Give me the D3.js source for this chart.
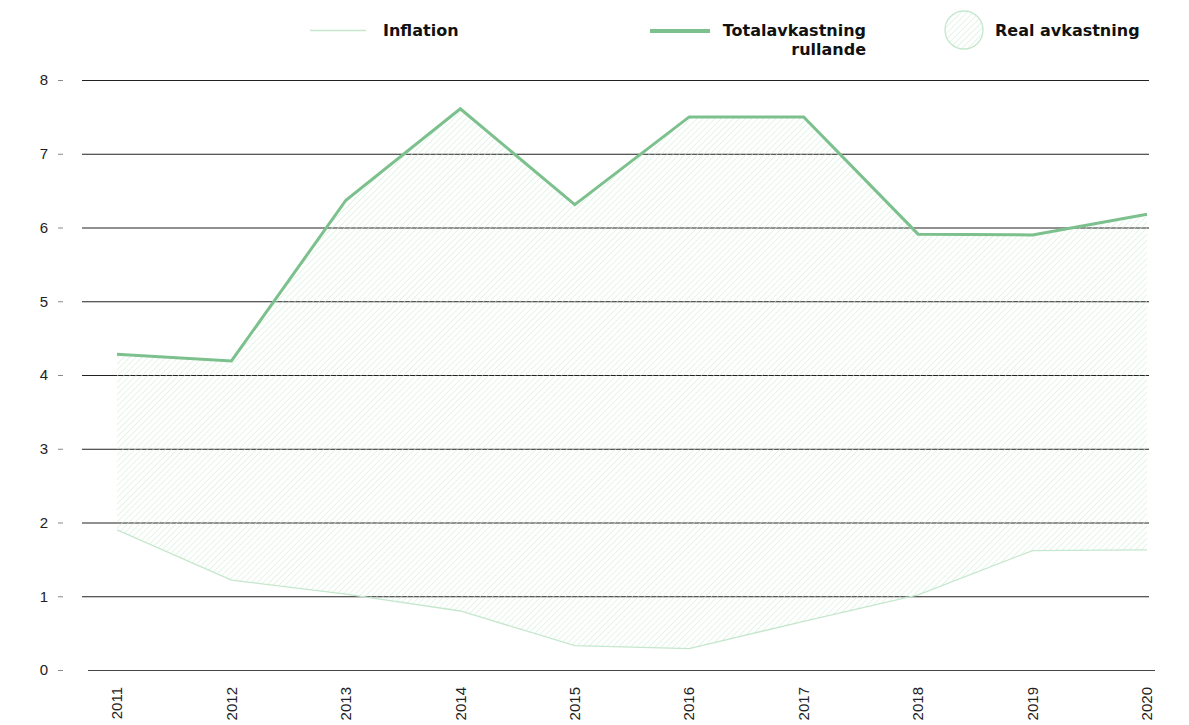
<!DOCTYPE html>
<html>
<head>
<meta charset="utf-8">
<script src="https://cdn.jsdelivr.net/npm/d3@7"></script>
<style>
  body { margin: 0; background: #fff; }
  svg { display: block; }
</style>
</head>
<body>
<div id="chart"></div>
<script>
var years = [2011, 2012, 2013, 2014, 2015, 2016, 2017, 2018, 2019, 2020];
var totalReturn = [4.28, 4.19, 6.37, 7.61, 6.31, 7.50, 7.50, 5.91, 5.90, 6.18];
var inflation = [1.90, 1.22, 1.03, 0.80, 0.33, 0.29, 0.66, 1.02, 1.62, 1.63];
var yTicks = [0, 1, 2, 3, 4, 5, 6, 7, 8];

var width = 1189, height = 725;
var lineGreen = "#7cc18d", lightGreen = "#c5e7cd", hatchGreen = "#d0ecd6";

var svg = d3.select("#chart").append("svg")
    .attr("width", width)
    .attr("height", height);

var x = d3.scalePoint().domain(years).range([117, 1147]);
var y = d3.scaleLinear().domain([0, 8]).range([670, 80]);

// hatch pattern
var defs = svg.append("defs");
var pat = defs.append("pattern")
    .attr("id", "hatch")
    .attr("patternUnits", "userSpaceOnUse")
    .attr("width", 4.3).attr("height", 4.3)
    .attr("patternTransform", "rotate(45)");
pat.append("line")
    .attr("x1", 0).attr("y1", 0).attr("x2", 0).attr("y2", 4.3)
    .attr("stroke", hatchGreen).attr("stroke-width", 1.1);

// gridlines
svg.append("g").selectAll("line")
    .data(yTicks.filter(function(d){ return d > 0; }))
    .enter().append("line")
    .attr("x1", 82).attr("x2", 1149)
    .attr("y1", function(d){ return y(d) + 0.5; })
    .attr("y2", function(d){ return y(d) + 0.5; })
    .attr("stroke", "#222").attr("stroke-width", 1);

svg.append("line")
    .attr("x1", 88).attr("x2", 1155)
    .attr("y1", y(0) + 0.5).attr("y2", y(0) + 0.5)
    .attr("stroke", "#444").attr("stroke-width", 1.2);

// y axis
var yAxis = svg.append("g")
    .attr("transform", "translate(63,0)")
    .call(d3.axisLeft(y).tickValues(yTicks).tickSize(5).tickPadding(10).tickFormat(d3.format("d")));
yAxis.select(".domain").remove();
yAxis.selectAll(".tick line").attr("stroke", "#888");
yAxis.selectAll("text")
    .attr("font-family", "'Liberation Sans', Arial, sans-serif")
    .attr("font-size", 15).attr("fill", "#222");

// x labels
svg.append("g").selectAll("text")
    .data(years).enter().append("text")
    .attr("transform", function(d){ return "translate(" + x(d) + ",687) rotate(-90)"; })
    .attr("text-anchor", "end")
    .attr("dy", "0.35em")
    .attr("font-family", "'Liberation Sans', Arial, sans-serif")
    .attr("font-size", 15).attr("fill", "#222")
    .text(function(d){ return d; });

// real return area between inflation and total return
var rows = years.map(function(yr, i){ return { year: yr, total: totalReturn[i], infl: inflation[i] }; });
var area = d3.area()
    .x(function(d){ return x(d.year); })
    .y0(function(d){ return y(d.infl); })
    .y1(function(d){ return y(d.total); });
svg.append("path").datum(rows)
    .attr("d", area)
    .attr("fill", "url(#hatch)");

var line = d3.line()
    .x(function(d){ return x(d.year); })
    .y(function(d){ return y(d.v); });

svg.append("path")
    .datum(rows.map(function(d){ return { year: d.year, v: d.infl }; }))
    .attr("d", line)
    .attr("fill", "none").attr("stroke", lightGreen).attr("stroke-width", 1.3);

svg.append("path")
    .datum(rows.map(function(d){ return { year: d.year, v: d.total }; }))
    .attr("d", line)
    .attr("fill", "none").attr("stroke", lineGreen).attr("stroke-width", 3);

// legend
var lg = svg.append("g")
    .attr("font-family", "'DejaVu Sans', sans-serif")
    .attr("font-weight", 700).attr("font-size", 16).attr("fill", "#111");

lg.append("line").attr("x1", 310).attr("x2", 366).attr("y1", 30.5).attr("y2", 30.5)
    .attr("stroke", lightGreen).attr("stroke-width", 1.3);
lg.append("text").attr("x", 383).attr("y", 36).text("Inflation");

lg.append("line").attr("x1", 650).attr("x2", 710).attr("y1", 31).attr("y2", 31)
    .attr("stroke", lineGreen).attr("stroke-width", 4);
lg.append("text").attr("x", 866).attr("y", 36).attr("text-anchor", "end").text("Totalavkastning");
lg.append("text").attr("x", 866).attr("y", 55).attr("text-anchor", "end").text("rullande");

lg.append("circle").attr("cx", 964).attr("cy", 30).attr("r", 19)
    .attr("fill", "url(#hatch)").attr("stroke", lightGreen).attr("stroke-width", 1.3);
lg.append("text").attr("x", 995).attr("y", 36).text("Real avkastning");
</script>
</body>
</html>
